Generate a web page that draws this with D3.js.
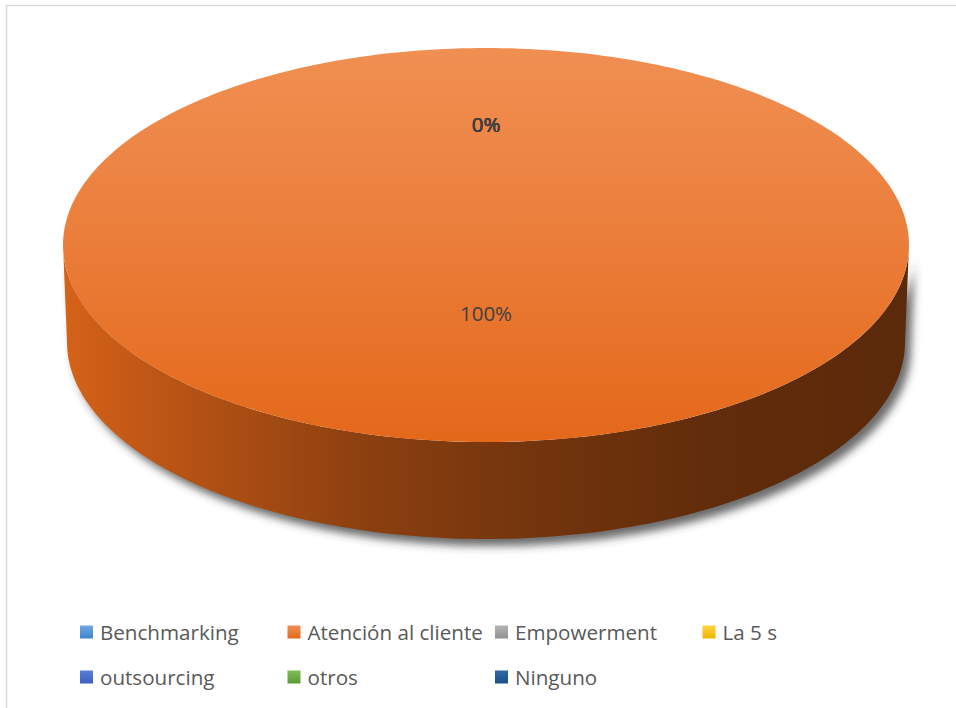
<!DOCTYPE html>
<html>
<head>
<meta charset="utf-8">
<script src="https://cdn.jsdelivr.net/npm/d3@7"></script>
<style>
  html, body { margin: 0; padding: 0; background: #ffffff; }
  svg { display: block; }
</style>
</head>
<body>
<svg id="chart" width="956" height="708"></svg>
<script>
// Categories and their share of responses (percent)
const categories = ["Benchmarking", "Atención al cliente", "Empowerment", "La 5 s", "outsourcing", "otros", "Ninguno"];
const values = [0, 100, 0, 0, 0, 0, 0];
const colorsLight = ["#6fa8e0", "#f08f52", "#b4b4b4", "#ffd23f", "#5a7fd6", "#7fbf55", "#2f6aa5"];
const colorsDark  = ["#3f84cc", "#e4681a", "#8f8f8f", "#f0b400", "#3d5fbf", "#5a9a36", "#1d4f86"];

const svg = d3.select("#chart");
const W = 956, H = 708;

// Chart frame
svg.append("rect")
  .attr("x", 6.5).attr("y", 5.5)
  .attr("width", W + 10).attr("height", H + 10)
  .attr("fill", "#ffffff").attr("stroke", "#d9d9d9").attr("stroke-width", 1.5);

// Pie geometry (tilted, extruded)
const cx = 486, cy = 245, rx = 423, ry = 197, depth = 97, rxBottom = 419;

const pie = d3.pie().value(d => d.value).sort(null).startAngle(0).endAngle(2 * Math.PI);
const data = categories.map((c, i) => ({ name: c, value: values[i], i }));
const arcs = pie(data);

const defs = svg.append("defs");

// Top face gradients
arcs.forEach(a => {
  const g = defs.append("linearGradient").attr("id", "top" + a.data.i)
    .attr("x1", 0).attr("y1", 0).attr("x2", 0).attr("y2", 1);
  g.append("stop").attr("offset", "0").attr("stop-color", colorsLight[a.data.i]);
  g.append("stop").attr("offset", "0.45").attr("stop-color", d3.interpolateRgb(colorsLight[a.data.i], colorsDark[a.data.i])(0.4));
  g.append("stop").attr("offset", "1").attr("stop-color", colorsDark[a.data.i]);

  // Side wall gradient: lit on the left, falling into shadow on the right
  const s = defs.append("linearGradient").attr("id", "side" + a.data.i)
    .attr("x1", 0).attr("y1", 0).attr("x2", 1).attr("y2", 0);
  const base = d3.color(colorsDark[a.data.i]);
  const stops = [[0, 0.94], [0.12, 0.82], [0.35, 0.62], [0.55, 0.51], [0.78, 0.42], [1, 0.40]];
  stops.forEach(([o, k]) => {
    const c = d3.rgb(base.r * k, base.g * k, base.b * k);
    s.append("stop").attr("offset", o).attr("stop-color", c.formatHex());
  });
});

// Soft drop shadow under the wall
const f = defs.append("filter").attr("id", "shadow")
  .attr("x", "-10%").attr("y", "-10%").attr("width", "120%").attr("height", "130%");
f.append("feGaussianBlur").attr("stdDeviation", 4);

const pt = (ang, yc, rX) => [cx + rX * Math.sin(ang), yc - ry * Math.cos(ang)];
const sample = (a0, a1, yc, rX) => {
  const n = Math.max(2, Math.ceil(Math.abs(a1 - a0) / 0.02));
  return d3.range(n + 1).map(k => pt(a0 + (a1 - a0) * k / n, yc, rX));
};
const line = d3.line();

// Outer wall pieces (only the front half, angles between π/2 and 3π/2)
function wallPath(a) {
  const s0 = Math.max(a.startAngle, Math.PI / 2);
  const s1 = Math.min(a.endAngle, 3 * Math.PI / 2);
  if (s1 <= s0) return null;
  const topPts = sample(s0, s1, cy, rx);
  const botPts = sample(s1, s0, cy + depth, rxBottom);
  return line(topPts.concat(botPts)) + "Z";
}

const walls = arcs.filter(a => a.endAngle > a.startAngle);

svg.append("g").attr("filter", "url(#shadow)")
  .selectAll("path").data(walls).join("path")
  .attr("d", wallPath)
  .attr("transform", "translate(6,7)")
  .attr("fill", "#3a3a3a").attr("opacity", 0.75);

svg.append("g").selectAll("path").data(walls).join("path")
  .attr("d", wallPath)
  .attr("fill", d => `url(#side${d.data.i})`);

// Top face slices
svg.append("g").selectAll("path").data(walls).join("path")
  .attr("d", a => {
    const pts = sample(a.startAngle, a.endAngle, cy, rx);
    const full = a.endAngle - a.startAngle >= 2 * Math.PI - 1e-6;
    return full ? line(pts) + "Z" : line([[cx, cy]].concat(pts)) + "Z";
  })
  .attr("fill", d => `url(#top${d.data.i})`);

// Data labels (zero slices stack at the top of the pie)
function labelPos(a) {
  const m = (a.startAngle + a.endAngle) / 2;
  const c = Math.cos(m);
  const k = c > 0 ? 0.6 : 0.36;
  return [cx + rx * k * Math.sin(m), cy - ry * k * c];
}
svg.append("g").selectAll("text").data(arcs).join("text")
  .attr("x", a => labelPos(a)[0])
  .attr("y", a => labelPos(a)[1])
  .attr("text-anchor", "middle")
  .attr("dominant-baseline", "middle")
  .attr("font-family", "'Open Sans', 'Liberation Sans', sans-serif")
  .attr("font-size", 20.5)
  .attr("fill", "#404040")
  .text(a => Math.round(a.data.value) + "%");

// Legend (4 per row)
const colX = d3.scaleLinear().domain([0, 1]).range([80, 287.5]);
const rowY = d3.scaleLinear().domain([0, 1]).range([632, 677]);
defs.selectAll("linearGradient.leg").data(data).join("linearGradient")
  .attr("class", "leg").attr("id", d => "leg" + d.i)
  .attr("x1", 0).attr("y1", 0).attr("x2", 0).attr("y2", 1)
  .call(g => {
    g.append("stop").attr("offset", 0).attr("stop-color", d => colorsLight[d.i]);
    g.append("stop").attr("offset", 1).attr("stop-color", d => colorsDark[d.i]);
  });

const leg = svg.append("g").selectAll("g").data(data).join("g")
  .attr("transform", d => `translate(${colX(d.i % 4)},${rowY(Math.floor(d.i / 4))})`);
leg.append("rect").attr("x", 0).attr("y", -6.5).attr("width", 13).attr("height", 13)
  .attr("fill", d => `url(#leg${d.i})`);
leg.append("text").attr("x", 20).attr("y", 0)
  .attr("dominant-baseline", "central")
  .attr("font-family", "'Open Sans', 'Liberation Sans', sans-serif")
  .attr("font-size", 20.6)
  .attr("fill", "#595959")
  .text(d => d.name);
</script>
</body>
</html>
